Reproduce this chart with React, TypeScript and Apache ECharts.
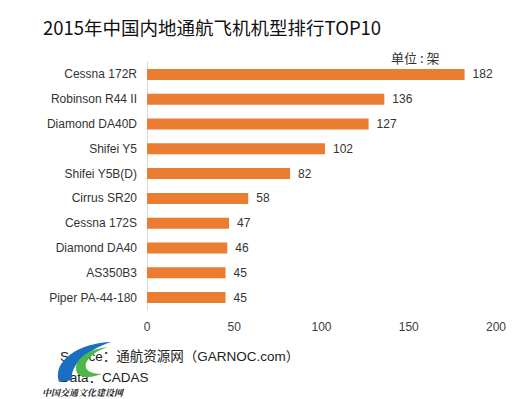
import React, { useEffect, useRef } from "react";
import * as echarts from "echarts";

const categories = [
  "Cessna 172R",
  "Robinson R44 II",
  "Diamond DA40D",
  "Shifei Y5",
  "Shifei Y5B(D)",
  "Cirrus SR20",
  "Cessna 172S",
  "Diamond DA40",
  "AS350B3",
  "Piper PA-44-180",
];
const values = [182, 136, 127, 102, 82, 58, 47, 46, 45, 45];
const titleText = "2015年中国内地通航飞机机型排行TOP10";
const unitText = "单位 : 架";
const sourceText = "Source：通航资源网（GARNOC.com）";
const dataText = "Data：CADAS";
const watermarkText = "中国交通文化建设网";

const blueSwoosh =
  "M111 342 C80 343 52 360 59 382 L72 380 C70 364 88 350 111 342 Z";
const greenSwoosh =
  "M108 347 C88 349 72 360 77 373 C82 379 94 377 102 374 C90 374 84 370 86 363 C90 355 98 350 108 347 Z";

let registered = false;
function registerShapes() {
  if (registered) return;
  registered = true;
  echarts.graphic.registerShape("blueSwoosh", echarts.graphic.extendPath(blueSwoosh, {}) as any);
  echarts.graphic.registerShape("greenSwoosh", echarts.graphic.extendPath(greenSwoosh, {}) as any);
}

export default function App() {
  const ref = useRef<HTMLDivElement>(null);
  useEffect(() => {
    if (!ref.current) return;
    registerShapes();
    const chart = echarts.init(ref.current, null, { renderer: "svg" });
    const font = "Arial, 'Liberation Sans', 'Noto Sans CJK SC', sans-serif";
    chart.setOption({
      animation: false,
      backgroundColor: "#ffffff",
      textStyle: { fontFamily: font },
      title: {
        text: titleText,
        left: 38,
        top: 13,
        textStyle: {
          fontSize: 18.5,
          fontWeight: "normal",
          color: "#111111",
          fontFamily: "'Noto Sans CJK SC', sans-serif",
        },
      },
      grid: { left: 147, right: 36, top: 62, bottom: 89, containLabel: false },
      xAxis: {
        type: "value",
        min: 0,
        max: 200,
        interval: 50,
        axisLine: { show: false },
        axisTick: { show: false },
        splitLine: { show: false },
        axisLabel: { fontSize: 12, color: "#404040", margin: 11 },
      },
      yAxis: {
        type: "category",
        data: categories,
        inverse: true,
        axisLine: { show: true, lineStyle: { color: "#d9d9d9", width: 1 } },
        axisTick: { show: false },
        axisLabel: { fontSize: 12, color: "#333333", margin: 10 },
      },
      series: [
        {
          type: "bar",
          data: values,
          barWidth: 11,
          itemStyle: { color: "#EB7D33" },
          label: {
            show: true,
            position: "right",
            distance: 8,
            fontSize: 12,
            color: "#333333",
          },
        },
      ],
      graphic: [
        {
          type: "text",
          left: 391,
          top: 51,
          style: { text: unitText, fontSize: 13, fill: "#333333", fontFamily: "'Noto Sans CJK SC', sans-serif" },
        },
        {
          type: "text",
          left: 60,
          top: 350,
          style: { text: sourceText, fontSize: 13.5, fill: "#222222", fontFamily: font },
        },
        {
          type: "text",
          left: 60,
          top: 371,
          style: { text: dataText, fontSize: 13.5, fill: "#222222", fontFamily: font },
        },
        {
          type: "blueSwoosh",
          x: 0,
          y: 0,
          scaleX: 1,
          scaleY: 1,
          style: { fill: "#1a6fc0" },
          z: 10,
        },
        {
          type: "greenSwoosh",
          x: 0,
          y: 0,
          scaleX: 1,
          scaleY: 1,
          style: { fill: "#4cb847" },
          z: 11,
        },
        {
          type: "text",
          left: 42,
          top: 388,
          style: {
            text: watermarkText,
            fontSize: 9,
            fontStyle: "italic",
            fontWeight: "bold",
            fill: "#222222",
            fontFamily: "'Noto Serif CJK SC', 'Noto Sans CJK SC', serif",
          },
          z: 12,
        },
      ],
    });
    return () => chart.dispose();
  }, []);
  return <div ref={ref} style={{ width: 532, height: 399, position: "absolute", left: 0, top: 0 }} />;
}
